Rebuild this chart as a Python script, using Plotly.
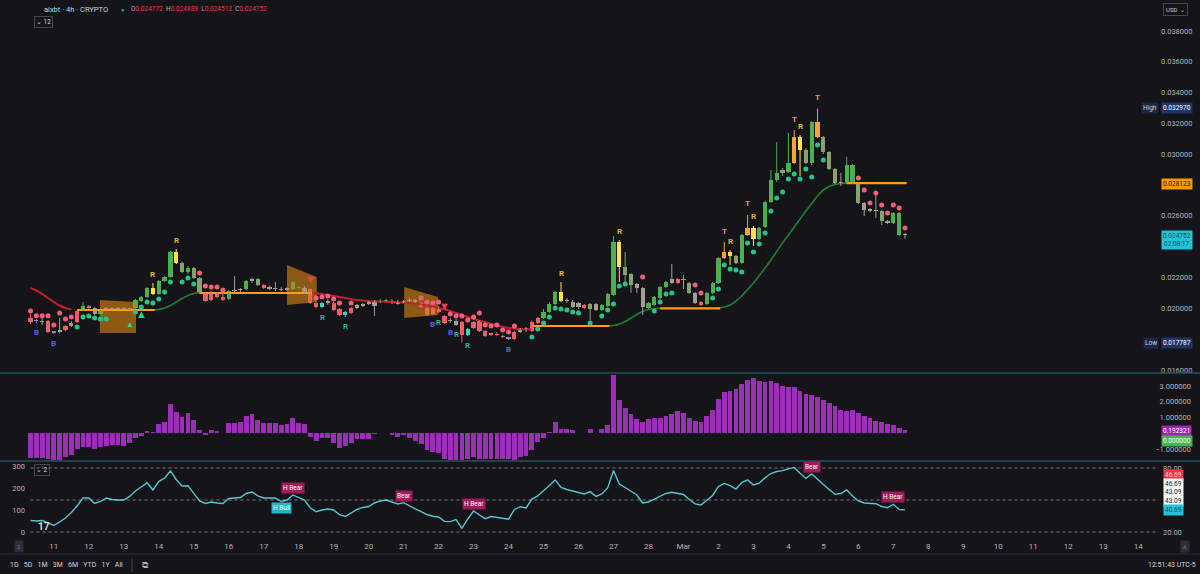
import plotly.graph_objects as go
from datetime import datetime, timedelta

# ---------------- data ----------------
START = datetime(2025, 2, 10, 8, 0)   # first 4h candle
BAR_HOURS = 4
PRICE_UNIT = 1e-6                      # OHLC values stored in micro-USD

open_u = [
    19372, 19177, 19177, 19177, 18463, 18463, 18593, 18853, 19112, 19891,
    20151, 20021, 19631, 19891, 20021, 19956, 20021, 19826, 20021, 20475,
    20735, 21319, 20929, 21773, 22033, 23655, 22941, 22357, 22617, 21968,
    20994, 20540, 20929, 20735, 20605, 21124, 21189, 21254, 21773, 21903,
    21513, 21319, 21319, 21254, 21189, 21254, 21319, 21319, 21254, 20345,
    20086, 20410, 20345, 19956, 19566, 19696, 20021, 20216, 20345, 20475,
    20410, 20475, 20475, 20410, 20410, 20475, 20540, 20345, 20021, 19631,
    20021, 19501, 19210, 19177, 19112, 18268, 18723, 19177, 18528, 18333,
    18333, 18203, 18073, 18008, 18463, 18658, 18528, 19047, 19372, 19761,
    20280, 21059, 20475, 20410, 20086, 20216, 19956, 20280, 19891, 20151,
    20864, 24304, 22682, 22227, 21578, 21319, 20021, 20216, 20670, 21384,
    21643, 21903, 21838, 21643, 20994, 20410, 20280, 20994, 21643, 23266,
    23655, 23396, 22941, 24759, 25213, 24499, 25278, 26900, 28328, 28782,
    28847, 29431, 31118, 30275, 29431, 32092, 31118, 30145, 29042, 28133,
    28133, 29301, 28133, 26835, 26381, 26381, 26316, 25602, 25537, 26186,
    24772,
]
high_u = [
    19631, 19307, 19372, 19242, 18528, 19372, 18917, 19177, 19891, 20410,
    20216, 20086, 19891, 20086, 20086, 20086, 20086, 20086, 20605, 20800,
    21384, 21643, 21838, 22098, 23720, 23850, 23006, 22747, 22682, 22033,
    21059, 21124, 21059, 21059, 21189, 22098, 21319, 21838, 21968, 21968,
    21578, 21449, 21708, 21384, 21384, 21773, 21449, 21449, 21319, 20410,
    20410, 20605, 20410, 20021, 19826, 20086, 20280, 20345, 20475, 20540,
    20605, 20605, 20605, 20540, 20540, 20670, 20605, 20410, 20151, 20086,
    20151, 19566, 19372, 19307, 19177, 18723, 19177, 19242, 18593, 18398,
    18463, 18268, 18138, 18528, 18723, 18788, 19177, 19436, 19956, 20410,
    21124, 21708, 20670, 20540, 20410, 20280, 20345, 20345, 20280, 20994,
    24693, 24434, 23655, 22292, 21643, 21384, 20410, 20800, 21449, 21773,
    22876, 21968, 22163, 21708, 21059, 20475, 21059, 21708, 23331, 24304,
    23785, 23460, 24824, 26057, 25343, 25278, 26965, 28977, 30794, 29107,
    31378, 31573, 31248, 30405, 32157, 32970, 31183, 30210, 29107, 28782,
    29821, 29366, 28198, 26900, 26511, 27354, 26381, 25732, 26251, 26251,
    24889,
]
low_u = [
    18982, 19047, 18917, 18398, 18333, 18398, 18528, 18788, 19047, 19826,
    19956, 19566, 19566, 19826, 19891, 19891, 19891, 19761, 19956, 20410,
    20670, 20864, 20864, 21708, 21968, 22876, 22292, 22227, 21903, 20929,
    20410, 20475, 20670, 20475, 20540, 21059, 21059, 21189, 21643, 21449,
    21254, 21189, 21124, 21124, 21124, 21189, 21254, 20929, 20280, 20021,
    20021, 20216, 19826, 19501, 19436, 19631, 19956, 20086, 20216, 19501,
    20345, 20410, 20280, 20248, 20345, 20410, 20345, 20021, 19501, 19566,
    19696, 18982, 19047, 18853, 17787, 18203, 18658, 18463, 18138, 18203,
    18203, 18073, 17944, 17944, 18398, 18463, 18463, 18982, 19307, 19696,
    20216, 20410, 20345, 20021, 19956, 19956, 19242, 19826, 19826, 20086,
    20800, 21708, 21708, 20994, 20994, 19566, 19956, 20151, 20605, 21319,
    21578, 21578, 21254, 20929, 20280, 20151, 20216, 20929, 21578, 23201,
    22811, 22876, 22876, 24694, 24045, 24434, 25213, 26835, 28198, 28587,
    28782, 29366, 28587, 29366, 29301, 31053, 30015, 28977, 28068, 27939,
    28068, 28068, 26770, 25992, 26251, 25862, 25408, 25473, 25473, 24694,
    24513,
]
close_u = [
    19112, 19145, 19112, 18463, 18430, 18593, 18853, 19047, 19826, 20151,
    20021, 19631, 19826, 20021, 19956, 20021, 19956, 20021, 20540, 20735,
    21319, 20929, 21773, 22033, 23655, 22941, 22357, 22617, 21968, 20994,
    20475, 20994, 20735, 20540, 21124, 21189, 21157, 21773, 21903, 21513,
    21319, 21286, 21254, 21189, 21319, 21708, 21384, 20994, 20345, 20086,
    20345, 20378, 19891, 19566, 19761, 20021, 20216, 20183, 20313, 20151,
    20475, 20508, 20345, 20313, 20443, 20540, 20410, 20086, 19566, 20021,
    19761, 19047, 19177, 18917, 18268, 18658, 19112, 18528, 18203, 18300,
    18268, 18138, 18040, 18463, 18658, 18723, 19112, 19372, 19761, 20280,
    21059, 20475, 20540, 20086, 20345, 20021, 20280, 19891, 20216, 20929,
    24304, 22682, 22163, 21513, 21319, 20086, 20345, 20735, 21384, 21708,
    21903, 21643, 21903, 20994, 20345, 20216, 20994, 21643, 23266, 23655,
    23396, 22941, 24759, 25213, 24499, 25213, 26900, 28328, 28782, 28977,
    29431, 31118, 30275, 29431, 32092, 31118, 30145, 29042, 28133, 28100,
    29301, 28133, 26835, 26381, 26348, 26316, 25667, 25570, 26186, 24759,
    24752,
]
# indicator colouring of each candle
candle_state = ("rpnrpnrnrg" "rngnnnnggg" "gygggymgmm" "rrrrgnngnm" "rnnnnggnrr"
                "cnrrcrnnnn" "ggrnnnnrrr" "rrnnrcrrrr" "rrprnnrrgg" "gynnnrmngg"
                "gymmnngggg" "nrnmnrgggo" "ymgoyggggm" "goymgommmn" "ggmnnnmngg" "n")
# trailing dots (micro-USD); above price = bearish, below = bullish
dot_u = [
    19826, 19511, 19511, 19511, 18917, 19696, 19307, 19436, 18788, 19436,
    19501, 19372, 19307, 19307, None, None, None, None, 19761, 20086,
    20410, 20345, 20605, 21059, 21708, None, 21708, 21968, 21578, 22292,
    21449, 21384, 21384, 21189, None, None, None, None, None, None,
    None, None, None, None, None, None, None, None, None, 20670,
    20735, 20800, 20605, 20345, None, 20345, None, None, None, None,
    None, None, None, None, None, None, None, 20670, 20410, 20345,
    20410, None, 19631, 19501, 19501, 19242, 19436, 19696, 18917, 18853,
    18917, 18593, 18463, 18853, None, None, 18138, 18658, 19047, 19436,
    20021, 19956, 19891, 19761, 19696, None, 19047, None, 19501, 19891,
    20280, 21449, 21578, None, None, 22033, None, 19826, 20410, 20929,
    20994, None, None, None, 21513, 20994, None, 20670, 21254, 22811,
    22552, 22487, 22357, 24239, 23655, 24174, 24889, 26316, 27160, 27549,
    28392, 28717, 28392, 29042, 28522, 30600, 29626, None, None, None,
    None, None, 28457, 27679, 26835, 27484, 26705, 26186, 26705, 26510,
    25213,
]
# trend line segments: (side, first candle index, values in micro-USD)
trend_segments = [
    ("bear", 0, [21319, 21157, 20929, 20670, 20410, 20183, 20021, 19924]),
    ("bull", 21, [19891, 19924, 20021, 20183, 20410, 20638, 20832, 20962, 21027]),
    ("bear", 48, [20994, 20975, 20929, 20864, 20800, 20735, 20670, 20605, 20540, 20508,
                  20475, 20456, 20443, 20430, 20410, 20391, 20365, 20345, 20313, 20248,
                  20183, 20118, 20021, 19924, 19826, 19696, 19566, 19436, 19307, 19210,
                  19112, 18982, 18885, 18788, 18723, 18690, 18658, 18638, 18638]),
    ("bull", 99, [18853, 18885, 18982, 19145, 19372, 19599, 19794, 19924, 19989, 20002]),
    ("bull", 118, [20021, 20086, 20216, 20475, 20800, 21222, 21643, 22130, 22617, 23136,
                   23688, 24239, 24759, 25278, 25797, 26316, 26803, 27290, 27679, 27906,
                   28036, 28101, 28114]),
]
# flat levels: first index, last index, price (micro-USD)
level_start = [8, 29, 86, 108, 140]
level_end = [21, 48, 99, 118, 150]
level_u = [19891, 20994, 18853, 20002, 28123]
# shaded zones (fractional candle index, micro-USD corners)
zone_start = [11.9, 44.0, 64.1]
zone_end = [18.1, 49.1, 69.9]
zone_left_top = [20540, 22810, 21380]
zone_left_bot = [18400, 20220, 19370]
zone_right_top = [20410, 22030, 20740]
zone_right_bot = [18400, 20410, 19570]
# signal letters
signal_idx = [1, 4, 69, 72, 82, 50, 54, 70, 73, 75, 21, 25, 91, 101, 120, 124, 132, 119, 123, 131, 135]
signal_text = ["B", "B", "B", "B", "B", "R", "R", "R", "R", "R", "R", "R", "R", "R", "R", "R", "R", "T", "T", "T", "T"]
signal_kind = ["buy"] * 5 + ["rev_dn"] * 5 + ["rev_up"] * 7 + ["top"] * 4
# triangle markers
arrow_idx = [17, 19, 48, 71]
arrow_dir = ["up", "up", "down", "down"]
arrow_big = [False, True, True, True]

# oscillator histogram
hist_vals = [
    -1.58, -1.58, -1.58, -1.65, -1.7, -1.7, -1.52, -1.37, -0.99, -0.84,
    -0.84, -0.99, -0.89, -0.8, -0.74, -0.74, -0.8, -0.63, -0.32, -0.15,
    0.17, 0.1, 0.57, 0.74, 1.84, 1.33, 1.05, 1.31, 0.84, 0.21,
    -0.13, 0.21, 0.15, 0.04, 0.63, 0.63, 0.7, 1.12, 1.2, 0.84,
    0.63, 0.63, 0.68, 0.53, 0.57, 0.95, 0.63, 0.57, -0.21, -0.49,
    -0.32, -0.32, -0.63, -0.95, -0.8, -0.59, -0.38, -0.38, -0.36, -0.04,
    0.0, 0.0, -0.13, -0.21, -0.13, -0.32, -0.49, -0.68, -1.05, -1.16,
    -1.22, -1.65, -1.7, -1.7, -1.7, -1.65, -1.52, -1.65, -1.65, -1.65,
    -1.65, -1.65, -1.65, -1.7, -1.5, -1.45, -1.05, -0.53, -0.32, 0.1,
    0.74, 0.27, 0.25, 0.21, 0.0, 0.04, 0.25, 0.02, 0.3, 0.5,
    3.7, 2.1, 1.6, 1.2, 0.9, 0.7, 0.9, 1.0, 1.0, 1.1,
    1.2, 1.4, 1.3, 1.0, 0.8, 0.7, 1.1, 1.5, 2.2, 2.6,
    2.7, 2.8, 3.1, 3.4, 3.5, 3.3, 3.25, 3.3, 3.2, 3.0,
    2.9, 2.95, 2.7, 2.5, 2.4, 2.3, 2.1, 1.9, 1.7, 1.5,
    1.4, 1.5, 1.3, 1.1, 0.95, 0.8, 0.7, 0.6, 0.5, 0.35,
    0.192321,
]
# RSI-type line
rsi_vals = [
    30.8, 30.3, 30.8, 28.4, 26.1, 29.4, 33.1, 38.3, 44.4, 51.9,
    51.9, 46.7, 48.6, 51.9, 50.5, 50.0, 50.0, 53.3, 58.4, 62.2,
    66.2, 59.4, 67.3, 70.6, 77.2, 69.2, 63.1, 63.4, 56.6, 49.1,
    46.7, 48.1, 47.2, 46.7, 51.4, 51.9, 52.3, 56.1, 57.5, 53.8,
    51.9, 51.9, 51.9, 48.6, 50.0, 54.7, 52.3, 50.0, 42.5, 39.0,
    40.6, 41.6, 40.6, 36.2, 34.5, 37.8, 41.1, 43.0, 43.9, 47.2,
    49.1, 50.0, 48.1, 46.3, 47.5, 44.4, 41.6, 39.2, 36.4, 34.8,
    34.1, 30.0, 29.7, 31.7, 23.5, 32.2, 39.7, 35.9, 32.5, 34.5,
    33.8, 33.1, 32.0, 41.1, 43.7, 42.5, 50.9, 53.8, 58.4, 63.6,
    68.8, 61.7, 59.8, 58.4, 56.6, 55.6, 57.8, 53.4, 55.6, 61.3,
    77.7, 65.0, 61.7, 58.0, 54.7, 47.2, 48.1, 50.7, 53.8, 56.1,
    57.2, 56.3, 55.2, 50.5, 46.3, 45.3, 49.5, 54.2, 62.7, 65.5,
    63.4, 60.3, 66.4, 68.8, 64.1, 65.8, 70.9, 74.8, 76.7, 77.5,
    79.1, 80.5, 75.0, 70.2, 74.4, 69.2, 64.5, 59.8, 55.3, 56.1,
    59.4, 53.8, 49.1, 47.2, 46.9, 46.5, 43.9, 42.8, 46.0, 41.1,
    40.69,
]
div_idx = [43, 45, 64, 76, 134, 148]
div_text = ["H Bull", "H Bear", "Bear", "H Bear", "Bear", "H Bear"]
div_kind = ["bull", "bear", "bear", "bear", "bear", "bear"]

# price-scale ticks that are not covered by the value labels
price_ticks = [0.016, 0.020, 0.022, 0.026, 0.030, 0.032, 0.034, 0.036, 0.038]
hist_ticks = [-1, 1, 2, 3]
rsi_ticks = [20, 80]
rsi_left_ticks = [0, 100, 200, 300]
day_labels = [str(d) for d in range(11, 29)] + ["Mar"] + [str(d) for d in range(2, 15)]

N = len(close_u)
for name, arr in [("open", open_u), ("high", high_u), ("low", low_u), ("state", candle_state),
                  ("dot", dot_u), ("hist", hist_vals), ("rsi", rsi_vals)]:
    if len(arr) != N:
        raise SystemExit(f"length mismatch {name}: {len(arr)} vs {N}")

# ---------------- layout geometry ----------------
W, H = 1200, 574
ML, MR, MT, MB = 0, 6, 0, 34
PW, PH = W - ML - MR, H - MT - MB
PX_PER_BAR = 5.83
FIRST_BAR_PX = 30.5
BAR_MS = BAR_HOURS * 3600 * 1000


def t_at(idx):
    return START + timedelta(hours=BAR_HOURS * idx)


def px_to_idx(px):
    return (px - FIRST_BAR_PX) / PX_PER_BAR


def X(px):
    return px / PW


def Y(py):
    return (PH - py) / PH


def p(v):
    return None if v is None else v * PRICE_UNIT


times = [t_at(i) for i in range(N)]
o = [p(v) for v in open_u]
h = [p(v) for v in high_u]
l = [p(v) for v in low_u]
c = [p(v) for v in close_u]

BG = "#151419"
FONT = "Roboto"
AXIS_TXT = "#b2b5be"
STATE_COLORS = {
    "g": "#4caf50", "m": "#86a36f", "n": "#a39e93", "r": "#ef5d6b",
    "y": "#ffe34a", "o": "#f7a23b", "c": "#40d0c8", "p": "#8d7fd0",
}

fig = go.Figure()

# zones (under candles)
for zs, ze, lt, lb, rt, rb in zip(zone_start, zone_end, zone_left_top, zone_left_bot,
                                  zone_right_top, zone_right_bot):
    fig.add_trace(go.Scatter(
        x=[t_at(zs), t_at(ze), t_at(ze), t_at(zs), t_at(zs)],
        y=[p(lt), p(rt), p(rb), p(lb), p(lt)],
        fill="toself", fillcolor="rgba(214,132,18,0.62)", mode="lines",
        line=dict(width=0), hoverinfo="skip", yaxis="y"))

# trend segments
for side, start, vals in trend_segments:
    fig.add_trace(go.Scatter(
        x=[t_at(start + k) for k in range(len(vals))], y=[p(v) for v in vals],
        mode="lines", line=dict(color="#c0212f" if side == "bear" else "#1f7f35",
                                width=2 if side == "bear" else 1.6, shape="spline"),
        hoverinfo="skip", yaxis="y"))

# flat levels
for s, e, v in zip(level_start, level_end, level_u):
    fig.add_trace(go.Scatter(x=[t_at(s), t_at(e + 0.3)], y=[p(v), p(v)], mode="lines",
                             line=dict(color="#ff9b1a", width=2.2), hoverinfo="skip", yaxis="y"))

# wicks
for st, col in STATE_COLORS.items():
    xs, ys = [], []
    for i in range(N):
        if candle_state[i] == st:
            xs += [times[i], times[i], None]
            ys += [l[i], h[i], None]
    if xs:
        fig.add_trace(go.Scatter(x=xs, y=ys, mode="lines", line=dict(color=col, width=1),
                                 hoverinfo="skip", yaxis="y"))

# bodies
MIN_BODY = 0.00007
fig.add_trace(go.Bar(
    x=times, base=[min(a, b) for a, b in zip(o, c)],
    y=[max(abs(b - a), MIN_BODY) for a, b in zip(o, c)],
    width=BAR_MS * 0.72, marker=dict(color=[STATE_COLORS[s] for s in candle_state], line=dict(width=0)),
    hoverinfo="skip", yaxis="y"))

# dots
dx, dy, dc = [], [], []
for i in range(N):
    if dot_u[i] is not None:
        dx.append(times[i])
        dy.append(p(dot_u[i]))
        dc.append("#f0607a" if p(dot_u[i]) > c[i] else "#27c484")
fig.add_trace(go.Scatter(x=dx, y=dy, mode="markers", marker=dict(size=5, color=dc),
                         hoverinfo="skip", yaxis="y"))

# histogram
fig.add_trace(go.Bar(x=times, y=hist_vals, width=BAR_MS * 0.82,
                     marker=dict(color="#9b2fb8", line=dict(width=0)), hoverinfo="skip", yaxis="y2"))

# RSI line
fig.add_trace(go.Scatter(x=times, y=rsi_vals, mode="lines", line=dict(color="#57c7cf", width=1.4),
                         hoverinfo="skip", yaxis="y3"))
fig.add_trace(go.Scatter(x=[times[0]], y=[0], mode="markers", marker=dict(opacity=0),
                         hoverinfo="skip", yaxis="y4"))

annotations = []
shapes = []

# signal letters
SIG_COL = {"buy": "#5566d6", "rev_dn": "#22b39b", "rev_up": "#e2b23c", "top": "#e2a43c"}
for idx, txt, kind in zip(signal_idx, signal_text, signal_kind):
    above = kind in ("rev_up", "top")
    annotations.append(dict(
        x=times[idx], y=h[idx] if above else l[idx], xref="x", yref="y",
        text=f"<b>{txt}</b>", showarrow=False, yshift=(11 if kind == "top" else 9) if above else -9,
        font=dict(family=FONT, size=8, color=SIG_COL[kind])))

for idx, d, big in zip(arrow_idx, arrow_dir, arrow_big):
    up = d == "up"
    annotations.append(dict(
        x=times[idx], y=l[idx] if up else h[idx], xref="x", yref="y",
        text="▲" if up else "▼", showarrow=False, yshift=-11 if up else 10,
        font=dict(size=11 if big else 8, color="#2bd88a" if up else "#f0405a")))

# divergence tags on RSI
for idx, txt, kind in zip(div_idx, div_text, div_kind):
    bull = kind == "bull"
    annotations.append(dict(
        x=times[idx], y=rsi_vals[idx], xref="x", yref="y3", text=txt, showarrow=False,
        yshift=-7 if bull else 7, bgcolor="#1fb6cc" if bull else "#a3195b", borderpad=1,
        font=dict(family=FONT, size=6.5, color="#ffffff")))


def chrome(text, px, py, size=7.5, color="#d1d4dc", xanchor="left", bg=None, pad=1, **kw):
    d = dict(x=X(px), y=Y(py), xref="paper", yref="paper", text=text, showarrow=False,
             xanchor=xanchor, yanchor="middle", font=dict(family=FONT, size=size, color=color))
    if bg:
        d.update(bgcolor=bg, borderpad=pad)
    d.update(kw)
    annotations.append(d)


# header
chrome("aixbt · 4h · CRYPTO", 42, 9, size=7.5, color="#d1d4dc")
chrome("●", 119, 9, size=6, color="#22ab94")
red = "#f23645"
ohlc = (f"O<span style='color:{red}'>0.024772</span>  H<span style='color:{red}'>0.024889</span>  "
        f"L<span style='color:{red}'>0.024513</span>  C<span style='color:{red}'>0.024752</span>")
chrome(ohlc, 129, 9, size=6.5, color="#b2b5be")
chrome("⌄ 12", 34, 22, size=6.5, color="#d1d4dc", bordercolor="#434651", borderwidth=1, borderpad=1)
chrome("⌄ 2", 34, 470, size=6.5, color="#d1d4dc", bordercolor="#434651", borderwidth=1, borderpad=1)
chrome("USD  ⌄", 1163, 10, size=6, color="#d1d4dc", bordercolor="#434651", borderwidth=1, borderpad=2)
chrome("<b>17</b>", 36, 526, size=10, color="#d9d9de")

# price-scale value labels
chrome("High", 1159, 108, size=6.5, color="#d1d4dc", xanchor="right", bg="#1b2744")
chrome("0.032970", 1161, 108, size=6.5, color="#ffffff", bg="#1f3566")
chrome("Low", 1159, 343, size=6.5, color="#d1d4dc", xanchor="right", bg="#1b2744")
chrome("0.017787", 1161, 343, size=6.5, color="#ffffff", bg="#1f3566")
chrome("0.028123", 1161, 184, size=6.5, color="#1a1a1a", bg="#ff9800")
chrome("0.024752<br>02:08:17", 1161, 240, size=6.5, color="#0b4f5c", bg="#22c3d8")
chrome("0.192321", 1161, 431, size=6.5, color="#ffffff", bg="#9c27b0")
chrome("0.000000", 1161, 441, size=6.5, color="#ffffff", bg="#4caf50")
chrome("46.69", 1163, 475, size=6.5, color="#ffd6da", bg="#f23645")
chrome("46.69<br>43.09<br>43.09", 1163, 492.5, size=6.5, color="#222222", bg="#f5f5f5")
chrome("40.69", 1163, 510, size=6.5, color="#0b4f5c", bg="#22c3d8")

# bottom bar
chrome("1D   5D   1M   3M   6M   YTD   1Y   All", 8, 565, size=7, color="#d1d4dc")
chrome("⧉", 140, 565, size=9, color="#b2b5be")
chrome("12:51:43 UTC-5", 1198, 565, size=7, color="#d1d4dc", xanchor="right")
chrome("2", 14, 546, size=6, color="#787b86", bg="#2a2e39", pad=2)
chrome("A", 1180, 546, size=6, color="#787b86", bg="#2a2e39", pad=2)

# separators
for py in (373, 461):
    shapes.append(dict(type="line", xref="paper", yref="paper", x0=0, x1=W / PW, y0=Y(py), y1=Y(py),
                       line=dict(color="#24505d", width=1.5)))
shapes.append(dict(type="line", xref="paper", yref="paper", x0=0, x1=W / PW, y0=Y(554), y1=Y(554),
                   line=dict(color="#2a2e39", width=1)))
shapes.append(dict(type="line", xref="paper", yref="paper", x0=X(132), x1=X(132), y0=Y(558), y1=Y(572),
                   line=dict(color="#434651", width=1)))
# RSI guide lines
for lvl in (80, 50, 20):
    shapes.append(dict(type="line", xref="x", yref="y3", x0=times[0], x1=t_at(px_to_idx(1158)),
                       y0=lvl, y1=lvl, line=dict(color="rgba(200,205,215,0.55)", width=1, dash="dot")))

tick_days = [datetime(2025, 2, 11) + timedelta(days=k) for k in range(len(day_labels))]
axis_font = dict(family=FONT, size=7.5, color=AXIS_TXT)

fig.update_layout(
    width=W, height=H, margin=dict(l=ML, r=MR, t=MT, b=MB),
    paper_bgcolor=BG, plot_bgcolor=BG, showlegend=False, hovermode=False,
    barmode="overlay", bargap=0, annotations=annotations, shapes=shapes,
    xaxis=dict(type="date", range=[t_at(px_to_idx(0)), t_at(px_to_idx(PW))], anchor="y3",
               tickvals=tick_days, ticktext=day_labels, tickfont=dict(family=FONT, size=8, color=AXIS_TXT),
               showgrid=False, zeroline=False, showline=False, ticks="", fixedrange=True),
    yaxis=dict(domain=[Y(372), 1], range=[0.04001 - 0.0000649 * 372, 0.04001], side="right",
               anchor="free", position=X(1160), ticklabelposition="outside",
               tickvals=price_ticks, ticktext=[f"{v:.6f}" for v in price_ticks], tickfont=axis_font,
               showgrid=False, zeroline=False, showline=False, ticks=""),
    yaxis2=dict(domain=[Y(460), Y(374)], range=[-1.69, 3.753], side="right", anchor="x",
                ticklabelposition="inside", tickvals=hist_ticks, tickformat=".6f", tickfont=axis_font,
                showgrid=False, zeroline=False, showline=False, ticks=""),
    yaxis3=dict(domain=[0, Y(462)], range=[12.5, 85.6], side="right", anchor="free",
                position=X(1162), ticklabelposition="outside", tickvals=rsi_ticks, tickformat=".2f",
                tickfont=axis_font, showgrid=False, zeroline=False, showline=False, ticks=""),
    yaxis4=dict(overlaying="y3", range=[-36.4, 318.2], side="left", anchor="free", position=X(25),
                ticklabelposition="outside", tickvals=rsi_left_ticks, tickfont=axis_font,
                showgrid=False, zeroline=False, showline=False, ticks=""),
)

fig.write_html(
    "out.html",
    config={"displayModeBar": False, "staticPlot": True},
    post_script="document.body.style.margin='0';document.body.style.background='" + BG + "';"
                "document.body.style.overflow='hidden';",
)
